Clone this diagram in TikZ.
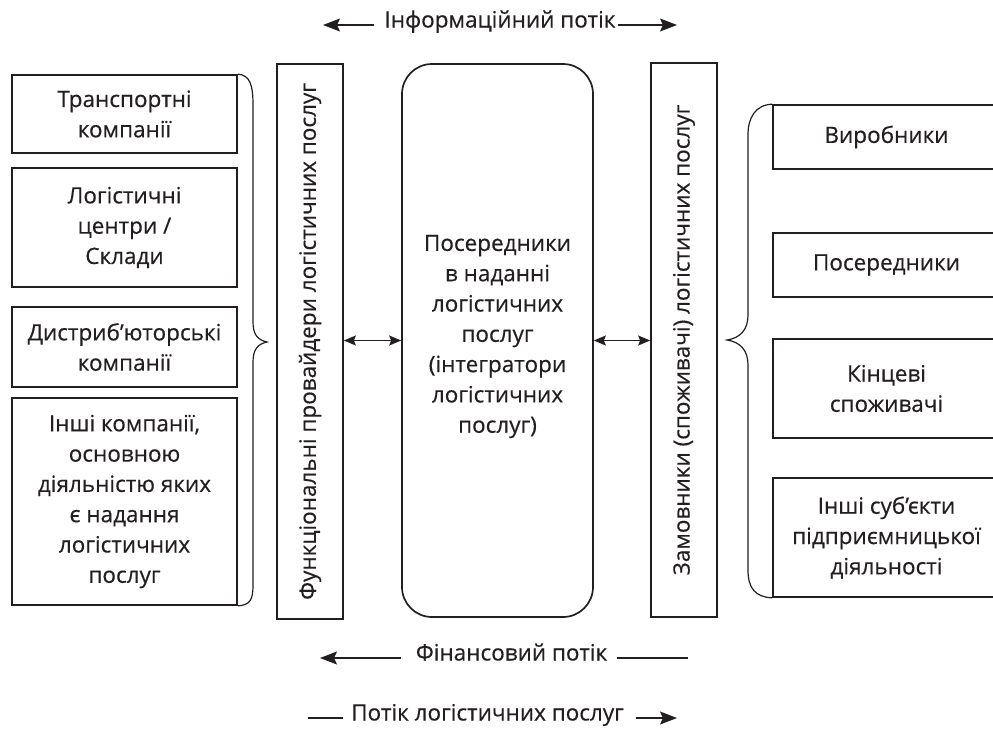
\documentclass[tikz,border=0pt]{standalone}
\usepackage{fontspec}
\setmainfont{Open Sans}[FakeBold=0.4]
\usetikzlibrary{arrows.meta}
\definecolor{ink}{HTML}{231F20}
\begin{document}
\begin{tikzpicture}[x=1pt,y=-1pt,
  txt/.style={text=ink, align=center, font=\fontsize{22.5}{30.3}\selectfont},
  box/.style={txt, draw=ink, line width=1.7pt, inner sep=0pt},
  rbox/.style={box, rounded corners=30pt},
  vtxt/.style={txt, rotate=90, inner sep=0pt},
  flowlbl/.style={txt, inner xsep=0pt, inner ysep=0pt, text height=16pt, text depth=5pt},
  flow/.style={draw=ink, line width=1.3pt},
  bigtip/.style={-{Stealth[length=17pt,width=13pt,inset=3pt]}},
  dbl/.style={draw=ink, line width=1.2pt, {Stealth[length=12pt,width=10pt,inset=2pt]}-{Stealth[length=12pt,width=10pt,inset=2pt]}},
  brace/.style={draw=ink, line width=1.2pt}
]
\useasboundingbox (0,0) rectangle (993,731);
\clip (0,0) rectangle (993,731);

% left boxes
\node[box, minimum width=225pt, minimum height=78pt]  (L1) at (124.5,114)   {Транспортні\\компанії};
\node[box, minimum width=225pt, minimum height=119pt] (L2) at (124.5,227.5) {Логістичні\\центри /\\Склади};
\node[box, minimum width=225pt, minimum height=80pt]  (L3) at (124.5,347)   {Дистриб’юторські\\компанії};
\node[box, minimum width=225pt, minimum height=207pt] (L4) at (124.5,501.5) {Інші компанії,\\основною\\діяльністю яких\\є надання\\логістичних\\послуг};

% vertical boxes
\node[box, minimum width=66pt, minimum height=555pt] (F) at (310,341.5) {};
\node[vtxt] (Ft) at (F.center) {Функціональні провайдери логістичних послуг};
\node[rbox, minimum width=191pt, minimum height=553pt] (C) at (497.5,340.5) {};
\node[txt] (Ct) at ([yshift=4pt]C.center) {Посередники\\в наданні\\логістичних\\послуг\\(інтегратори\\логістичних\\послуг)};
\node[box, minimum width=66pt, minimum height=554pt] (Z) at (684,340) {};
\node[vtxt] (Zt) at (Z.center) {Замовники (споживачі) логістичних послуг};

% right boxes
\node[box, minimum width=227pt, minimum height=64pt]  (R1) at (886.5,137)   {Виробники};
\node[box, minimum width=227pt, minimum height=64pt]  (R2) at (886.5,265)   {Посередники};
\node[box, minimum width=227pt, minimum height=99pt]  (R3) at (886.5,388.5) {Кінцеві\\споживачі};
\node[box, minimum width=227pt, minimum height=119pt] (R4) at (886.5,537.5) {Інші суб’єкти\\підприємницької\\діяльності};

% double arrows
\draw[dbl] (C.west -| F.east) -- (C.west);
\draw[dbl] (C.east) -- (C.east -| Z.west);

% braces
\draw[brace] (L1.north east) .. controls (250,75) and (253,85) .. (253,105)
  -- (253,322) .. controls (253,335) and (258,340) .. (267,342)
  .. controls (258,344) and (253,349) .. (253,362)
  -- (253,585) .. controls (253,600) and (250,605) .. (L4.south east);
\draw[brace] (R1.north west) .. controls (755,105) and (748,118) .. (748,135)
  -- (748,315) .. controls (748,330) and (740,338) .. (727,340)
  .. controls (740,342) and (748,350) .. (748,365)
  -- (748,570) .. controls (748,588) and (755,597) .. (R4.south west);

% flow labels
\node[flowlbl] (info) at (500,22) {Інформаційний потік};
\node[flowlbl] (fin) at (511.5,655) {Фінансовий потік};
\node[flowlbl] (pot) at (487.5,715) {Потік логістичних послуг};
\coordinate (iL) at (323,25);
\coordinate (iR) at (677,25);
\coordinate (fL) at (320,658);
\coordinate (fR) at (688,658);
\coordinate (pL) at (308,718);
\coordinate (pR) at (677,718);
\draw[flow, bigtip] (info.west |- iL) ++(-10,0) -- (iL);
\draw[flow, bigtip] (info.east |- iR) ++(2,0) -- (iR);
\draw[flow, bigtip] (fin.west |- fL) ++(-15,0) -- (fL);
\draw[flow] (fin.east |- fR) ++(10,0) -- (fR);
\draw[flow] (pot.west |- pL) ++(-8,0) -- (pL);
\draw[flow, bigtip] (pot.east |- pR) ++(12,0) -- (pR);
\end{tikzpicture}
\end{document}
